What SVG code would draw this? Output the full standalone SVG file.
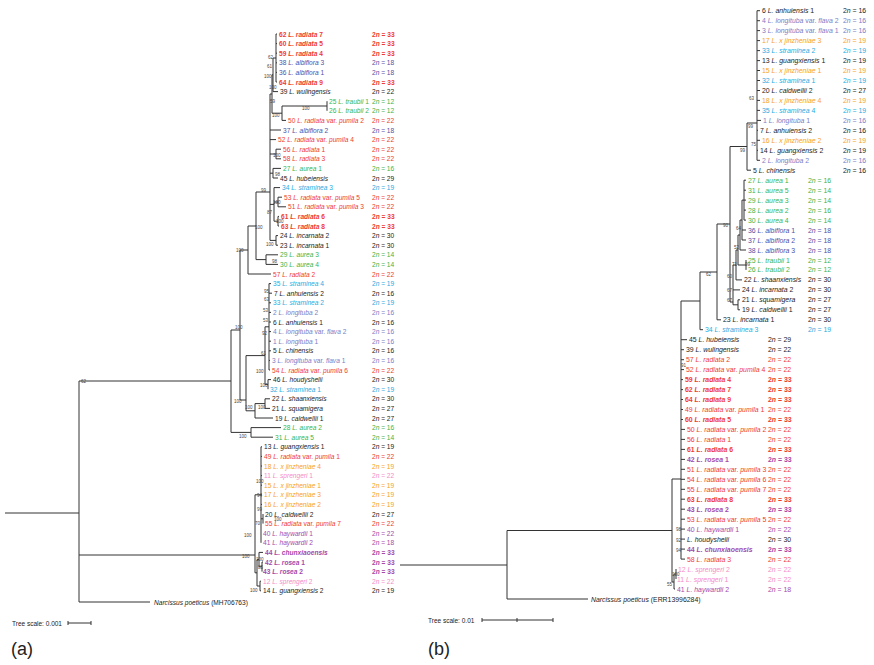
<svg xmlns="http://www.w3.org/2000/svg" width="874" height="665" viewBox="0 0 874 665">
<style>
.t{font-family:"Liberation Sans",Arial,sans-serif;font-size:6.6px}
#tree-b-leaves .t{font-size:6.9px}
.i{font-style:italic}
.b{font-weight:bold}
.k{fill:#222}.r{fill:#ee3b30}.bl{fill:#4e4fa8}.lb{fill:#7b7cc6}.g{fill:#3bb44a}.c{fill:#29abe2}.o{fill:#f8a21d}.p{fill:#f48cc7}.pu{fill:#a548a8}
.s{font-family:"Liberation Sans",Arial,sans-serif;font-size:4.5px;fill:#444}
.ln{stroke:#333;stroke-width:1;fill:none}
.sc{font-family:"Liberation Sans",Arial,sans-serif;font-size:6.5px;fill:#222}
.lab{font-family:"Liberation Sans",Arial,sans-serif;font-size:18px;fill:#222}
</style>
<rect width="874" height="665" fill="#fff"/>
<g id="connectors">
<path class="ln" d="M276,34V82M276,34H277M276,43.6H277M276,53.2H277M276,62.8H277M276,72.4H277M276,82H277
M273,58V91.6M273,58H276M273,91.6H278
M327,101.2V110.8M282,106V120.4M282,106H327M282,120.4H286
M272,74.8V113.2M272,74.8H273M272,113.2H282
M276,149.2V158.8M276,149.2H281M276,158.8H281
M273,168.4V178M273,168.4H281M273,178H278
M278,197.2V206.8M278,197.2H282M278,206.8H286M278,216.4V226M278,216.4H279M278,226H279
M274,187.6V221.2M274,187.6H280M274,202H278M274,221.2H278
M276,235.6V245.2M276,235.6H278M276,245.2H278
M270,94V240.4M270,94H272M270,130H281M270,139.6H276M270,154H276M270,173.2H273M270,204.4H274M270,240.4H276
M266,254.8V264.4M266,254.8H278M266,264.4H278
M256,192V259.6M256,192H270M256,259.6H266
M248,226V274M248,226H256M248,274H271
M269,283.6V370M269,283.6H271M269,293.2H272M269,302.8H271M269,312.4H271M269,322H271M269,331.6H271M269,341.2H271M269,350.8H271M269,360.4H270M269,370H270
M268,379.6V389.2M268,379.6H271
M265,326.8V384.4M265,326.8H269M265,384.4H268
M265,398.8V408.4M265,398.8H270M265,408.4H270
M255,403.6V418M255,403.6H265M255,418H273
M246,355.6V410.8M246,355.6H265M246,410.8H255
M240,250V400M240,250H248M240,400H246
M251,427.6V437.2M251,427.6H281M251,437.2H273
M231,330V432.4M231,330H240M231,432.4H251
M261,446.8V542.8M261,446.8H262M261,456.4H262M261,466H262M261,475.6H262M261,485.2H262M261,494.8H262M261,504.4H262
M263,514V523.6M261,518.8H263
M255,494.8V572.8M255,494.8H261M255,572.8H257
M257,559.6V586M259,552.4V566.8M259,552.4H263M257,559.6H259M262,562V571.6M259,566.8H262M262,562H263M260,581.2V590.8M257,586H260M260,581.2H261M260,590.8H261
M79,381V602M79,381H231M79,555H255
M79,602H150M5,513H79
M68,623H91M68,621V625M91,621V625"/>
<path class="ln" d="M757,10.7V160.3M757,10.7H760M757,20.7H760M757,30.6H760M757,40.6H760M757,50.6H760M757,60.6H760M757,70.5H760M757,80.5H760M757,90.5H760M757,100.4H760M757,110.4H760M757,120.4H761M757,130.3H758M757,140.3H760M757,150.3H758M757,160.3H760
M747,123V170.2M747,123H757M747,170.2H751
M730,146.5V302M730,146.5H747M730,302H733
M744,180.2V220.1M744,180.2H746M744,190.2H746M744,200.1H746M744,210.1H746M744,220.1H746
M742,200.1V240M742,200.1H744M742,230H746M742,240H746
M740,220V250M740,220H742M740,250H746
M746,260V269.9
M738,235V265M738,235H740M738,265H746
M736,250V279.9M736,250H738M736,279.9H742
M738,299.8V309.8M738,299.8H740M738,309.8H740
M733,265V304.8M733,265H736M733,289.9H740M733,304.8H738
M717,224V319.8M717,224H730M717,319.8H721
M700,272V329.7M700,272H717M700,329.7H703
M681,301V559.1M681,301H700M681,339.7H687M681,349.7H684M681,359.7H684M681,369.6H684M681,379.6H683M681,389.6H683M681,399.5H683M681,409.5H683M681,419.5H683M681,429.4H685M681,439.4H685M681,449.4H685M681,459.4H685M681,469.3H685M681,479.3H685M681,489.3H685M681,499.2H685M681,509.2H685M681,519.2H685M681,529.1H685M681,539.1H685M681,549.1H685M681,559.1H685
M676,569V579M674,574V589M674,574H676M674,589H675
M672,479V582M672,479H681M672,582H674
M507,530.5V599M507,530.5H672M507,599H588M400,565H507
M482,620H553M482,618V622M517,618V622M553,618V622"/>
</g>
<g id="supports-a">
<text class="s" x="268" y="59">62</text><text class="s" x="267" y="68">61</text><text class="s" x="264" y="78">100</text><text class="s" x="269" y="89">100</text><text class="s" x="270" y="103">59</text><text class="s" x="302" y="110">100</text><text class="s" x="272" y="117">100</text><text class="s" x="273" y="157">100</text><text class="s" x="275" y="176">98</text><text class="s" x="261" y="192">99</text><text class="s" x="273" y="204">100</text><text class="s" x="267" y="214">87</text><text class="s" x="276" y="223">100</text><text class="s" x="255" y="229">100</text><text class="s" x="266" y="246">100</text><text class="s" x="236" y="252">100</text><text class="s" x="272" y="263">98</text><text class="s" x="264" y="293">95</text><text class="s" x="264" y="301">63</text><text class="s" x="263" y="312">53</text><text class="s" x="263" y="322">53</text><text class="s" x="262" y="335">92</text><text class="s" x="261" y="355">61</text><text class="s" x="235" y="329">100</text><text class="s" x="256" y="373">100</text><text class="s" x="260" y="387">100</text><text class="s" x="234" y="403">100</text><text class="s" x="245" y="409">100</text><text class="s" x="258" y="409">100</text><text class="s" x="239" y="438">100</text><text class="s" x="81" y="383">62</text><text class="s" x="256" y="483">100</text><text class="s" x="257" y="497">94</text><text class="s" x="257" y="511">99</text><text class="s" x="255" y="525">70</text><text class="s" x="274" y="520.5">100</text><text class="s" x="244" y="537">100</text><text class="s" x="242" y="558">100</text><text class="s" x="256" y="561">100</text><text class="s" x="258" y="569">85</text><text class="s" x="250" y="592">100</text>
</g>
<g id="supports-b">
<text class="s" x="749" y="100">63</text><text class="s" x="748" y="128">99</text><text class="s" x="751" y="146">75</text><text class="s" x="740" y="152">99</text><text class="s" x="723" y="227">90</text><text class="s" x="736" y="230">64</text><text class="s" x="734" y="249">52</text><text class="s" x="732" y="266">71</text><text class="s" x="745" y="266">99</text><text class="s" x="727" y="278">60</text><text class="s" x="706" y="276">62</text><text class="s" x="727" y="292">67</text><text class="s" x="727" y="302">67</text><text class="s" x="681" y="367">91</text><text class="s" x="676" y="531">98</text><text class="s" x="676" y="542">92</text><text class="s" x="676" y="552">94</text><text class="s" x="672" y="576">100</text><text class="s" x="667" y="586">55</text>
</g>
<g id="tree-a-leaves">
<g id="a62"><text class="t r b" x="279" y="36.5">62 <tspan class="i">L. radiata</tspan> 7</text><text class="t r b" x="372" y="36.5">2<tspan class="i">n</tspan> = 33</text></g>
<g id="a60"><text class="t r b" x="279" y="46.1">60 <tspan class="i">L. radiata</tspan> 5</text><text class="t r b" x="372" y="46.1">2<tspan class="i">n</tspan> = 33</text></g>
<g id="a59"><text class="t r b" x="279" y="55.7">59 <tspan class="i">L. radiata</tspan> 4</text><text class="t r b" x="372" y="55.7">2<tspan class="i">n</tspan> = 33</text></g>
<g id="a38"><text class="t bl" x="279" y="65.3">38 <tspan class="i">L. albiflora</tspan> 3</text><text class="t bl" x="372" y="65.3">2<tspan class="i">n</tspan> = 18</text></g>
<g id="a36"><text class="t bl" x="279" y="74.9">36 <tspan class="i">L. albiflora</tspan> 1</text><text class="t bl" x="372" y="74.9">2<tspan class="i">n</tspan> = 18</text></g>
<g id="a64"><text class="t r b" x="279" y="84.5">64 <tspan class="i">L. radiata</tspan> 9</text><text class="t r b" x="372" y="84.5">2<tspan class="i">n</tspan> = 33</text></g>
<g id="a39"><text class="t k" x="280" y="94.1">39 <tspan class="i">L. wulingensis</tspan></text><text class="t k" x="372" y="94.1">2<tspan class="i">n</tspan> = 22</text></g>
<g id="a25"><text class="t g" x="329" y="103.7">25 <tspan class="i">L. traubii</tspan> 1</text><text class="t g" x="372" y="103.7">2<tspan class="i">n</tspan> = 12</text></g>
<g id="a26"><text class="t g" x="329" y="113.3">26 <tspan class="i">L. traubii</tspan> 2</text><text class="t g" x="372" y="113.3">2<tspan class="i">n</tspan> = 12</text></g>
<g id="a50"><text class="t r" x="288" y="122.9">50 <tspan class="i">L. radiata</tspan> var. <tspan class="i">pumila</tspan> 2</text><text class="t r" x="372" y="122.9">2<tspan class="i">n</tspan> = 22</text></g>
<g id="a37"><text class="t bl" x="283" y="132.5">37 <tspan class="i">L. albiflora</tspan> 2</text><text class="t bl" x="372" y="132.5">2<tspan class="i">n</tspan> = 18</text></g>
<g id="a52"><text class="t r" x="278" y="142.1">52 <tspan class="i">L. radiata</tspan> var. <tspan class="i">pumila</tspan> 4</text><text class="t r" x="372" y="142.1">2<tspan class="i">n</tspan> = 22</text></g>
<g id="a56"><text class="t r" x="283" y="151.7">56 <tspan class="i">L. radiata</tspan> 1</text><text class="t r" x="372" y="151.7">2<tspan class="i">n</tspan> = 22</text></g>
<g id="a58"><text class="t r" x="283" y="161.3">58 <tspan class="i">L. radiata</tspan> 3</text><text class="t r" x="372" y="161.3">2<tspan class="i">n</tspan> = 22</text></g>
<g id="a27"><text class="t g" x="283" y="170.9">27 <tspan class="i">L. aurea</tspan> 1</text><text class="t g" x="372" y="170.9">2<tspan class="i">n</tspan> = 16</text></g>
<g id="a45"><text class="t k" x="280" y="180.5">45 <tspan class="i">L. hubeiensis</tspan></text><text class="t k" x="372" y="180.5">2<tspan class="i">n</tspan> = 29</text></g>
<g id="a34"><text class="t c" x="282" y="190.1">34 <tspan class="i">L. straminea</tspan> 3</text><text class="t c" x="372" y="190.1">2<tspan class="i">n</tspan> = 19</text></g>
<g id="a53"><text class="t r" x="284" y="199.7">53 <tspan class="i">L. radiata</tspan> var. <tspan class="i">pumila</tspan> 5</text><text class="t r" x="372" y="199.7">2<tspan class="i">n</tspan> = 22</text></g>
<g id="a51"><text class="t r" x="288" y="209.3">51 <tspan class="i">L. radiata</tspan> var. <tspan class="i">pumila</tspan> 3</text><text class="t r" x="372" y="209.3">2<tspan class="i">n</tspan> = 22</text></g>
<g id="a61"><text class="t r b" x="281" y="218.9">61 <tspan class="i">L. radiata</tspan> 6</text><text class="t r b" x="372" y="218.9">2<tspan class="i">n</tspan> = 33</text></g>
<g id="a63"><text class="t r b" x="281" y="228.5">63 <tspan class="i">L. radiata</tspan> 8</text><text class="t r b" x="372" y="228.5">2<tspan class="i">n</tspan> = 33</text></g>
<g id="a24"><text class="t k" x="280" y="238.1">24 <tspan class="i">L. incarnata</tspan> 2</text><text class="t k" x="372" y="238.1">2<tspan class="i">n</tspan> = 30</text></g>
<g id="a23"><text class="t k" x="280" y="247.7">23 <tspan class="i">L. incarnata</tspan> 1</text><text class="t k" x="372" y="247.7">2<tspan class="i">n</tspan> = 30</text></g>
<g id="a29"><text class="t g" x="280" y="257.3">29 <tspan class="i">L. aurea</tspan> 3</text><text class="t g" x="372" y="257.3">2<tspan class="i">n</tspan> = 14</text></g>
<g id="a30"><text class="t g" x="280" y="266.9">30 <tspan class="i">L. aurea</tspan> 4</text><text class="t g" x="372" y="266.9">2<tspan class="i">n</tspan> = 14</text></g>
<g id="a57"><text class="t r" x="273" y="276.5">57 <tspan class="i">L. radiata</tspan> 2</text><text class="t r" x="372" y="276.5">2<tspan class="i">n</tspan> = 22</text></g>
<g id="a35"><text class="t c" x="273" y="286.1">35 <tspan class="i">L. straminea</tspan> 4</text><text class="t c" x="372" y="286.1">2<tspan class="i">n</tspan> = 19</text></g>
<g id="a7"><text class="t k" x="274" y="295.7">7 <tspan class="i">L. anhuiensis</tspan> 2</text><text class="t k" x="372" y="295.7">2<tspan class="i">n</tspan> = 16</text></g>
<g id="a33"><text class="t c" x="273" y="305.3">33 <tspan class="i">L. straminea</tspan> 2</text><text class="t c" x="372" y="305.3">2<tspan class="i">n</tspan> = 19</text></g>
<g id="a2"><text class="t lb" x="273" y="314.9">2 <tspan class="i">L. longituba</tspan> 2</text><text class="t lb" x="372" y="314.9">2<tspan class="i">n</tspan> = 16</text></g>
<g id="a6"><text class="t k" x="273" y="324.5">6 <tspan class="i">L. anhuiensis</tspan> 1</text><text class="t k" x="372" y="324.5">2<tspan class="i">n</tspan> = 16</text></g>
<g id="a4"><text class="t lb" x="273" y="334.1">4 <tspan class="i">L. longituba</tspan> var. <tspan class="i">flava</tspan> 2</text><text class="t lb" x="372" y="334.1">2<tspan class="i">n</tspan> = 16</text></g>
<g id="a1"><text class="t lb" x="273" y="343.7">1 <tspan class="i">L. longituba</tspan> 1</text><text class="t lb" x="372" y="343.7">2<tspan class="i">n</tspan> = 16</text></g>
<g id="a5"><text class="t k" x="273" y="353.3">5 <tspan class="i">L. chinensis</tspan></text><text class="t k" x="372" y="353.3">2<tspan class="i">n</tspan> = 16</text></g>
<g id="a3"><text class="t lb" x="272" y="362.9">3 <tspan class="i">L. longituba</tspan> var. <tspan class="i">flava</tspan> 1</text><text class="t lb" x="372" y="362.9">2<tspan class="i">n</tspan> = 16</text></g>
<g id="a54"><text class="t r" x="272" y="372.5">54 <tspan class="i">L. radiata</tspan> var. <tspan class="i">pumila</tspan> 6</text><text class="t r" x="372" y="372.5">2<tspan class="i">n</tspan> = 22</text></g>
<g id="a46"><text class="t k" x="273" y="382.1">46 <tspan class="i">L. houdyshelii</tspan></text><text class="t k" x="372" y="382.1">2<tspan class="i">n</tspan> = 30</text></g>
<g id="a32"><text class="t c" x="270" y="391.7">32 <tspan class="i">L. straminea</tspan> 1</text><text class="t c" x="372" y="391.7">2<tspan class="i">n</tspan> = 19</text></g>
<g id="a22"><text class="t k" x="272" y="401.3">22 <tspan class="i">L. shaanxiensis</tspan></text><text class="t k" x="372" y="401.3">2<tspan class="i">n</tspan> = 30</text></g>
<g id="a21"><text class="t k" x="272" y="410.9">21 <tspan class="i">L. squamigera</tspan></text><text class="t k" x="372" y="410.9">2<tspan class="i">n</tspan> = 27</text></g>
<g id="a19"><text class="t k" x="275" y="420.5">19 <tspan class="i">L. caldwellii</tspan> 1</text><text class="t k" x="372" y="420.5">2<tspan class="i">n</tspan> = 27</text></g>
<g id="a28"><text class="t g" x="283" y="430.1">28 <tspan class="i">L. aurea</tspan> 2</text><text class="t g" x="372" y="430.1">2<tspan class="i">n</tspan> = 16</text></g>
<g id="a31"><text class="t g" x="275" y="439.7">31 <tspan class="i">L. aurea</tspan> 5</text><text class="t g" x="372" y="439.7">2<tspan class="i">n</tspan> = 14</text></g>
<g id="a13"><text class="t k" x="264" y="449.3">13 <tspan class="i">L. guangxiensis</tspan> 1</text><text class="t k" x="372" y="449.3">2<tspan class="i">n</tspan> = 19</text></g>
<g id="a49"><text class="t r" x="264" y="458.9">49 <tspan class="i">L. radiata</tspan> var. <tspan class="i">pumila</tspan> 1</text><text class="t r" x="372" y="458.9">2<tspan class="i">n</tspan> = 22</text></g>
<g id="a18"><text class="t o" x="264" y="468.5">18 <tspan class="i">L. x jinzheniae</tspan> 4</text><text class="t o" x="372" y="468.5">2<tspan class="i">n</tspan> = 19</text></g>
<g id="a11"><text class="t p" x="264" y="478.1">11 <tspan class="i">L. sprengeri</tspan> 1</text><text class="t p" x="372" y="478.1">2<tspan class="i">n</tspan> = 22</text></g>
<g id="a15"><text class="t o" x="264" y="487.7">15 <tspan class="i">L. x jinzheniae</tspan> 1</text><text class="t o" x="372" y="487.7">2<tspan class="i">n</tspan> = 19</text></g>
<g id="a17"><text class="t o" x="264" y="497.3">17 <tspan class="i">L. x jinzheniae</tspan> 3</text><text class="t o" x="372" y="497.3">2<tspan class="i">n</tspan> = 19</text></g>
<g id="a16"><text class="t o" x="264" y="506.9">16 <tspan class="i">L. x jinzheniae</tspan> 2</text><text class="t o" x="372" y="506.9">2<tspan class="i">n</tspan> = 19</text></g>
<g id="a20"><text class="t k" x="265" y="516.5">20 <tspan class="i">L. caldwellii</tspan> 2</text><text class="t k" x="372" y="516.5">2<tspan class="i">n</tspan> = 27</text></g>
<g id="a55"><text class="t r" x="265" y="526.1">55 <tspan class="i">L. radiata</tspan> var. <tspan class="i">pumila</tspan> 7</text><text class="t r" x="372" y="526.1">2<tspan class="i">n</tspan> = 22</text></g>
<g id="a40"><text class="t pu" x="263" y="535.7">40 <tspan class="i">L. haywardii</tspan> 1</text><text class="t pu" x="372" y="535.7">2<tspan class="i">n</tspan> = 22</text></g>
<g id="a41"><text class="t pu" x="263" y="545.3">41 <tspan class="i">L. haywardii</tspan> 2</text><text class="t pu" x="372" y="545.3">2<tspan class="i">n</tspan> = 18</text></g>
<g id="a44"><text class="t pu b" x="265" y="554.9">44 <tspan class="i">L. chunxiaoensis</tspan></text><text class="t pu b" x="372" y="554.9">2<tspan class="i">n</tspan> = 33</text></g>
<g id="a42"><text class="t pu b" x="265" y="564.5">42 <tspan class="i">L. rosea</tspan> 1</text><text class="t pu b" x="372" y="564.5">2<tspan class="i">n</tspan> = 33</text></g>
<g id="a43"><text class="t pu b" x="263" y="574.1">43 <tspan class="i">L. rosea</tspan> 2</text><text class="t pu b" x="372" y="574.1">2<tspan class="i">n</tspan> = 33</text></g>
<g id="a12"><text class="t p" x="263" y="583.7">12 <tspan class="i">L. sprengeri</tspan> 2</text><text class="t p" x="372" y="583.7">2<tspan class="i">n</tspan> = 22</text></g>
<g id="a14"><text class="t k" x="263" y="593.3">14 <tspan class="i">L. guangxiensis</tspan> 2</text><text class="t k" x="372" y="593.3">2<tspan class="i">n</tspan> = 19</text></g>
<g id="a-out"><text class="t k" x="154" y="604.5"><tspan class="i">Narcissus poeticus</tspan> (MH706763)</text></g>
</g>
<g id="tree-b-leaves">
<g id="b6"><text class="t k" x="762" y="13.2">6 <tspan class="i">L. anhuiensis</tspan> 1</text><text class="t k" x="843" y="13.2">2<tspan class="i">n</tspan> = 16</text></g>
<g id="b4"><text class="t lb" x="762" y="23.2">4 <tspan class="i">L. longituba</tspan> var. <tspan class="i">flava</tspan> 2</text><text class="t lb" x="843" y="23.2">2<tspan class="i">n</tspan> = 16</text></g>
<g id="b3"><text class="t lb" x="762" y="33.1">3 <tspan class="i">L. longituba</tspan> var. <tspan class="i">flava</tspan> 1</text><text class="t lb" x="843" y="33.1">2<tspan class="i">n</tspan> = 16</text></g>
<g id="b17"><text class="t o" x="762" y="43.1">17 <tspan class="i">L. x jinzheniae</tspan> 3</text><text class="t o" x="843" y="43.1">2<tspan class="i">n</tspan> = 19</text></g>
<g id="b33"><text class="t c" x="762" y="53.1">33 <tspan class="i">L. straminea</tspan> 2</text><text class="t c" x="843" y="53.1">2<tspan class="i">n</tspan> = 19</text></g>
<g id="b13"><text class="t k" x="762" y="63.1">13 <tspan class="i">L. guangxiensis</tspan> 1</text><text class="t k" x="843" y="63.1">2<tspan class="i">n</tspan> = 19</text></g>
<g id="b15"><text class="t o" x="762" y="73">15 <tspan class="i">L. x jinzheniae</tspan> 1</text><text class="t o" x="843" y="73">2<tspan class="i">n</tspan> = 19</text></g>
<g id="b32"><text class="t c" x="762" y="83">32 <tspan class="i">L. straminea</tspan> 1</text><text class="t c" x="843" y="83">2<tspan class="i">n</tspan> = 19</text></g>
<g id="b20"><text class="t k" x="762" y="93">20 <tspan class="i">L. caldwellii</tspan> 2</text><text class="t k" x="843" y="93">2<tspan class="i">n</tspan> = 27</text></g>
<g id="b18"><text class="t o" x="762" y="102.9">18 <tspan class="i">L. x jinzheniae</tspan> 4</text><text class="t o" x="843" y="102.9">2<tspan class="i">n</tspan> = 19</text></g>
<g id="b35"><text class="t c" x="762" y="112.9">35 <tspan class="i">L. straminea</tspan> 4</text><text class="t c" x="843" y="112.9">2<tspan class="i">n</tspan> = 19</text></g>
<g id="b1"><text class="t lb" x="763" y="122.9">1 <tspan class="i">L. longituba</tspan> 1</text><text class="t lb" x="843" y="122.9">2<tspan class="i">n</tspan> = 16</text></g>
<g id="b7"><text class="t k" x="760" y="132.8">7 <tspan class="i">L. anhuiensis</tspan> 2</text><text class="t k" x="843" y="132.8">2<tspan class="i">n</tspan> = 16</text></g>
<g id="b16"><text class="t o" x="762" y="142.8">16 <tspan class="i">L. x jinzheniae</tspan> 2</text><text class="t o" x="843" y="142.8">2<tspan class="i">n</tspan> = 19</text></g>
<g id="b14"><text class="t k" x="760" y="152.8">14 <tspan class="i">L. guangxiensis</tspan> 2</text><text class="t k" x="843" y="152.8">2<tspan class="i">n</tspan> = 19</text></g>
<g id="b2"><text class="t lb" x="762" y="162.8">2 <tspan class="i">L. longituba</tspan> 2</text><text class="t lb" x="843" y="162.8">2<tspan class="i">n</tspan> = 16</text></g>
<g id="b5"><text class="t k" x="753" y="172.7">5 <tspan class="i">L. chinensis</tspan></text><text class="t k" x="843" y="172.7">2<tspan class="i">n</tspan> = 16</text></g>
<g id="b27"><text class="t g" x="748" y="182.7">27 <tspan class="i">L. aurea</tspan> 1</text><text class="t g" x="808" y="182.7">2<tspan class="i">n</tspan> = 16</text></g>
<g id="b31"><text class="t g" x="748" y="192.7">31 <tspan class="i">L. aurea</tspan> 5</text><text class="t g" x="808" y="192.7">2<tspan class="i">n</tspan> = 14</text></g>
<g id="b29"><text class="t g" x="748" y="202.6">29 <tspan class="i">L. aurea</tspan> 3</text><text class="t g" x="808" y="202.6">2<tspan class="i">n</tspan> = 14</text></g>
<g id="b28"><text class="t g" x="748" y="212.6">28 <tspan class="i">L. aurea</tspan> 2</text><text class="t g" x="808" y="212.6">2<tspan class="i">n</tspan> = 16</text></g>
<g id="b30"><text class="t g" x="748" y="222.6">30 <tspan class="i">L. aurea</tspan> 4</text><text class="t g" x="808" y="222.6">2<tspan class="i">n</tspan> = 14</text></g>
<g id="b36"><text class="t bl" x="748" y="232.5">36 <tspan class="i">L. albiflora</tspan> 1</text><text class="t bl" x="808" y="232.5">2<tspan class="i">n</tspan> = 18</text></g>
<g id="b37"><text class="t bl" x="748" y="242.5">37 <tspan class="i">L. albiflora</tspan> 2</text><text class="t bl" x="808" y="242.5">2<tspan class="i">n</tspan> = 18</text></g>
<g id="b38"><text class="t bl" x="748" y="252.5">38 <tspan class="i">L. albiflora</tspan> 3</text><text class="t bl" x="808" y="252.5">2<tspan class="i">n</tspan> = 18</text></g>
<g id="b25"><text class="t g" x="748" y="262.5">25 <tspan class="i">L. traubii</tspan> 1</text><text class="t g" x="808" y="262.5">2<tspan class="i">n</tspan> = 12</text></g>
<g id="b26"><text class="t g" x="748" y="272.4">26 <tspan class="i">L. traubii</tspan> 2</text><text class="t g" x="808" y="272.4">2<tspan class="i">n</tspan> = 12</text></g>
<g id="b22"><text class="t k" x="744" y="282.4">22 <tspan class="i">L. shaanxiensis</tspan></text><text class="t k" x="808" y="282.4">2<tspan class="i">n</tspan> = 30</text></g>
<g id="b24"><text class="t k" x="742" y="292.4">24 <tspan class="i">L. incarnata</tspan> 2</text><text class="t k" x="808" y="292.4">2<tspan class="i">n</tspan> = 30</text></g>
<g id="b21"><text class="t k" x="742" y="302.3">21 <tspan class="i">L. squamigera</tspan></text><text class="t k" x="808" y="302.3">2<tspan class="i">n</tspan> = 27</text></g>
<g id="b19"><text class="t k" x="742" y="312.3">19 <tspan class="i">L. caldwellii</tspan> 1</text><text class="t k" x="808" y="312.3">2<tspan class="i">n</tspan> = 27</text></g>
<g id="b23"><text class="t k" x="723" y="322.3">23 <tspan class="i">L. incarnata</tspan> 1</text><text class="t k" x="808" y="322.3">2<tspan class="i">n</tspan> = 30</text></g>
<g id="b34"><text class="t c" x="705" y="332.2">34 <tspan class="i">L. straminea</tspan> 3</text><text class="t c" x="808" y="332.2">2<tspan class="i">n</tspan> = 19</text></g>
<g id="b45"><text class="t k" x="689" y="342.2">45 <tspan class="i">L. hubeiensis</tspan></text><text class="t k" x="768" y="342.2">2<tspan class="i">n</tspan> = 29</text></g>
<g id="b39"><text class="t k" x="686" y="352.2">39 <tspan class="i">L. wulingensis</tspan></text><text class="t k" x="768" y="352.2">2<tspan class="i">n</tspan> = 22</text></g>
<g id="b57"><text class="t r" x="686" y="362.2">57 <tspan class="i">L. radiata</tspan> 2</text><text class="t r" x="768" y="362.2">2<tspan class="i">n</tspan> = 22</text></g>
<g id="b52"><text class="t r" x="686" y="372.1">52 <tspan class="i">L. radiata</tspan> var. <tspan class="i">pumila</tspan> 4</text><text class="t r" x="768" y="372.1">2<tspan class="i">n</tspan> = 22</text></g>
<g id="b59"><text class="t r b" x="685" y="382.1">59 <tspan class="i">L. radiata</tspan> 4</text><text class="t r b" x="768" y="382.1">2<tspan class="i">n</tspan> = 33</text></g>
<g id="b62"><text class="t r b" x="685" y="392.1">62 <tspan class="i">L. radiata</tspan> 7</text><text class="t r b" x="768" y="392.1">2<tspan class="i">n</tspan> = 33</text></g>
<g id="b64"><text class="t r b" x="685" y="402">64 <tspan class="i">L. radiata</tspan> 9</text><text class="t r b" x="768" y="402">2<tspan class="i">n</tspan> = 33</text></g>
<g id="b49"><text class="t r" x="685" y="412">49 <tspan class="i">L. radiata</tspan> var. <tspan class="i">pumila</tspan> 1</text><text class="t r" x="768" y="412">2<tspan class="i">n</tspan> = 22</text></g>
<g id="b60"><text class="t r b" x="685" y="422">60 <tspan class="i">L. radiata</tspan> 5</text><text class="t r b" x="768" y="422">2<tspan class="i">n</tspan> = 33</text></g>
<g id="b50"><text class="t r" x="687" y="431.9">50 <tspan class="i">L. radiata</tspan> var. <tspan class="i">pumila</tspan> 2</text><text class="t r" x="768" y="431.9">2<tspan class="i">n</tspan> = 22</text></g>
<g id="b56"><text class="t r" x="687" y="441.9">56 <tspan class="i">L. radiata</tspan> 1</text><text class="t r" x="768" y="441.9">2<tspan class="i">n</tspan> = 22</text></g>
<g id="b61"><text class="t r b" x="687" y="451.9">61 <tspan class="i">L. radiata</tspan> 6</text><text class="t r b" x="768" y="451.9">2<tspan class="i">n</tspan> = 33</text></g>
<g id="b42"><text class="t pu b" x="687" y="461.9">42 <tspan class="i">L. rosea</tspan> 1</text><text class="t pu b" x="768" y="461.9">2<tspan class="i">n</tspan> = 33</text></g>
<g id="b51"><text class="t r" x="687" y="471.8">51 <tspan class="i">L. radiata</tspan> var. <tspan class="i">pumila</tspan> 3</text><text class="t r" x="768" y="471.8">2<tspan class="i">n</tspan> = 22</text></g>
<g id="b54"><text class="t r" x="687" y="481.8">54 <tspan class="i">L. radiata</tspan> var. <tspan class="i">pumila</tspan> 6</text><text class="t r" x="768" y="481.8">2<tspan class="i">n</tspan> = 22</text></g>
<g id="b55"><text class="t r" x="687" y="491.8">55 <tspan class="i">L. radiata</tspan> var. <tspan class="i">pumila</tspan> 7</text><text class="t r" x="768" y="491.8">2<tspan class="i">n</tspan> = 22</text></g>
<g id="b63"><text class="t r b" x="687" y="501.7">63 <tspan class="i">L. radiata</tspan> 8</text><text class="t r b" x="768" y="501.7">2<tspan class="i">n</tspan> = 33</text></g>
<g id="b43"><text class="t pu b" x="687" y="511.7">43 <tspan class="i">L. rosea</tspan> 2</text><text class="t pu b" x="768" y="511.7">2<tspan class="i">n</tspan> = 33</text></g>
<g id="b53"><text class="t r" x="687" y="521.7">53 <tspan class="i">L. radiata</tspan> var. <tspan class="i">pumila</tspan> 5</text><text class="t r" x="768" y="521.7">2<tspan class="i">n</tspan> = 22</text></g>
<g id="b40"><text class="t pu" x="687" y="531.6">40 <tspan class="i">L. haywardii</tspan>  1</text><text class="t pu" x="768" y="531.6">2<tspan class="i">n</tspan> = 22</text></g>
<g id="b46"><text class="t k" x="687" y="541.6"><tspan class="i">L. houdyshelii</tspan></text><text class="t k" x="768" y="541.6">2<tspan class="i">n</tspan> = 30</text></g>
<g id="b44"><text class="t pu b" x="687" y="551.6">44 <tspan class="i">L. chunxiaoensis</tspan></text><text class="t pu b" x="768" y="551.6">2<tspan class="i">n</tspan> = 33</text></g>
<g id="b58"><text class="t r" x="687" y="561.6">58 <tspan class="i">L. radiata</tspan> 3</text><text class="t r" x="768" y="561.6">2<tspan class="i">n</tspan> = 22</text></g>
<g id="b12"><text class="t p" x="678" y="571.5">12 <tspan class="i">L. sprengeri</tspan> 2</text><text class="t p" x="768" y="571.5">2<tspan class="i">n</tspan> = 22</text></g>
<g id="b11"><text class="t p" x="677" y="581.5">11 <tspan class="i">L. sprengeri</tspan> 1</text><text class="t p" x="768" y="581.5">2<tspan class="i">n</tspan> = 22</text></g>
<g id="b41"><text class="t pu" x="677" y="591.5">41 <tspan class="i">L. haywardii</tspan> 2</text><text class="t pu" x="768" y="591.5">2<tspan class="i">n</tspan> = 18</text></g>
<g id="b-out"><text class="t k" x="591" y="601.5"><tspan class="i">Narcissus poeticus</tspan> (ERR13996284)</text></g>
</g>
<g id="scales">
<text class="sc" x="12" y="625.5">Tree scale: 0.001</text>
<text class="sc" x="428" y="622.5">Tree scale: 0.01</text>
<text class="lab" x="11" y="655">(a)</text>
<text class="lab" x="428" y="655">(b)</text>
</g>
</svg>
